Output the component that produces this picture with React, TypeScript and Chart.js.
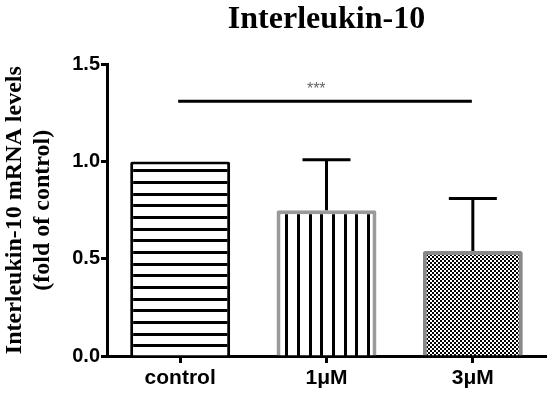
import React, { useEffect, useRef } from "react";
import { Chart, registerables } from "chart.js";

Chart.register(...registerables);

const categories = ["control", "1\u03bcM", "3\u03bcM"];
const means = [1.0, 0.75, 0.54];
const errors = [0, 0.26, 0.27];
const yTicks = [0, 0.5, 1.0, 1.5];
const chartTitle = "Interleukin-10";
const yTitle = ["Interleukin-10 mRNA levels", "(fold of control)"];
const sigFrom = 0;
const sigTo = 2;
const sigLevel = 1.31;
const sigLabel = "***";

function makeStripes(vertical: boolean, offsets: number[]): CanvasPattern | string {
  const c = document.createElement("canvas");
  const period = 35;
  c.width = vertical ? period : 4;
  c.height = vertical ? 4 : period;
  const ctx = c.getContext("2d");
  if (!ctx) return "#fff";
  ctx.fillStyle = "#fff";
  ctx.fillRect(0, 0, c.width, c.height);
  ctx.fillStyle = "#000";
  offsets.forEach((o) => {
    if (vertical) ctx.fillRect(o, 0, 3, c.height);
    else ctx.fillRect(0, o, c.width, 3);
  });
  return ctx.createPattern(c, "repeat") || "#fff";
}

function makeChecker(): CanvasPattern | string {
  const c = document.createElement("canvas");
  c.width = 4;
  c.height = 4;
  const ctx = c.getContext("2d");
  if (!ctx) return "#888";
  ctx.fillStyle = "#fff";
  ctx.fillRect(0, 0, 4, 4);
  ctx.fillStyle = "#000";
  ctx.fillRect(0, 0, 2, 2);
  ctx.fillRect(2, 2, 2, 2);
  return ctx.createPattern(c, "repeat") || "#888";
}

const errorBarPlugin = {
  id: "errorBars",
  afterDatasetsDraw(chart: any) {
    const { ctx, scales } = chart;
    const y = scales.y;
    const x = scales.x;
    const meta = chart.getDatasetMeta(0);
    ctx.save();
    ctx.strokeStyle = "#000";
    ctx.lineWidth = 3;
    meta.data.forEach((bar: any, i: number) => {
      const e = errors[i];
      if (!e) return;
      const yb = y.getPixelForValue(means[i]);
      const yt = y.getPixelForValue(means[i] + e);
      ctx.beginPath();
      ctx.moveTo(bar.x, yb);
      ctx.lineTo(bar.x, yt);
      ctx.moveTo(bar.x - 24, yt);
      ctx.lineTo(bar.x + 24, yt);
      ctx.stroke();
    });
    // significance line
    const ys = y.getPixelForValue(sigLevel);
    ctx.beginPath();
    ctx.moveTo(x.getPixelForValue(sigFrom) - 2, ys);
    ctx.lineTo(x.getPixelForValue(sigTo) - 1, ys);
    ctx.stroke();
    ctx.fillStyle = "#666";
    ctx.font = "16px 'Liberation Sans', Arial, sans-serif";
    ctx.textAlign = "center";
    ctx.textBaseline = "alphabetic";
    ctx.fillText(sigLabel, x.getPixelForValue((sigFrom + sigTo) / 2 - 0.07), ys - 7);
    ctx.restore();
  },
};

export default function App() {
  const ref = useRef<HTMLCanvasElement>(null);
  useEffect(() => {
    document.body.style.margin = "0";
    if (!ref.current) return;
    const fills = [makeStripes(false, [6, 18, 29]), makeStripes(true, [5, 17, 29]), makeChecker()];
    const chart = new Chart(ref.current, {
      type: "bar",
      data: {
        labels: categories,
        datasets: [
          {
            data: means,
            backgroundColor: fills as any,
            borderColor: ["#000000", "#9a9a9a", "#8a8a8a"],
            borderWidth: [3, 4, 4] as any,
            borderRadius: 2,
            barPercentage: 0.683,
            categoryPercentage: 1,
          },
        ],
      },
      options: {
        responsive: false,
        animation: false,
        layout: { padding: { left: 0, right: 4, top: 0, bottom: 0 } },
        plugins: {
          legend: { display: false },
          tooltip: { enabled: false },
          title: {
            display: true,
            text: chartTitle,
            fullSize: false,
            color: "#000",
            font: { family: "'Liberation Serif', 'Times New Roman', serif", size: 32, weight: "bold" },
            padding: { top: 1, bottom: 25 },
          },
        },
        scales: {
          x: {
            grid: { offset: false, drawOnChartArea: false, tickLength: 7, tickWidth: 3, tickColor: "#000" },
            border: { color: "#000", width: 3 },
            ticks: {
              color: "#000",
              padding: 3,
              font: { family: "'Liberation Sans', Arial, sans-serif", size: 21, weight: "bold" },
            },
            afterFit: (s: any) => {
              s.height = 43;
            },
          },
          y: {
            min: 0,
            max: 1.5,
            afterBuildTicks: (s: any) => {
              s.ticks = yTicks.map((v) => ({ value: v }));
            },
            grid: { drawOnChartArea: false, tickLength: 6, tickWidth: 3, tickColor: "#000" },
            border: { color: "#000", width: 3 },
            ticks: {
              color: "#000",
              padding: 1,
              font: { family: "'Liberation Sans', Arial, sans-serif", size: 20, weight: "bold" },
              callback: (v: any) => Number(v).toFixed(1),
            },
            title: {
              display: true,
              text: yTitle,
              color: "#000",
              padding: { top: 0, bottom: 0 },
              font: { family: "'Liberation Serif', 'Times New Roman', serif", size: 24, weight: "bold", lineHeight: 1.2 },
            },
            afterFit: (s: any) => {
              s.width = 107;
            },
          },
        },
      },
      plugins: [errorBarPlugin],
    });
    return () => chart.destroy();
  }, []);
  return (
    <div style={{ width: 550, height: 399 }}>
      <canvas ref={ref} width={550} height={399} style={{ display: "block" }} />
    </div>
  );
}
